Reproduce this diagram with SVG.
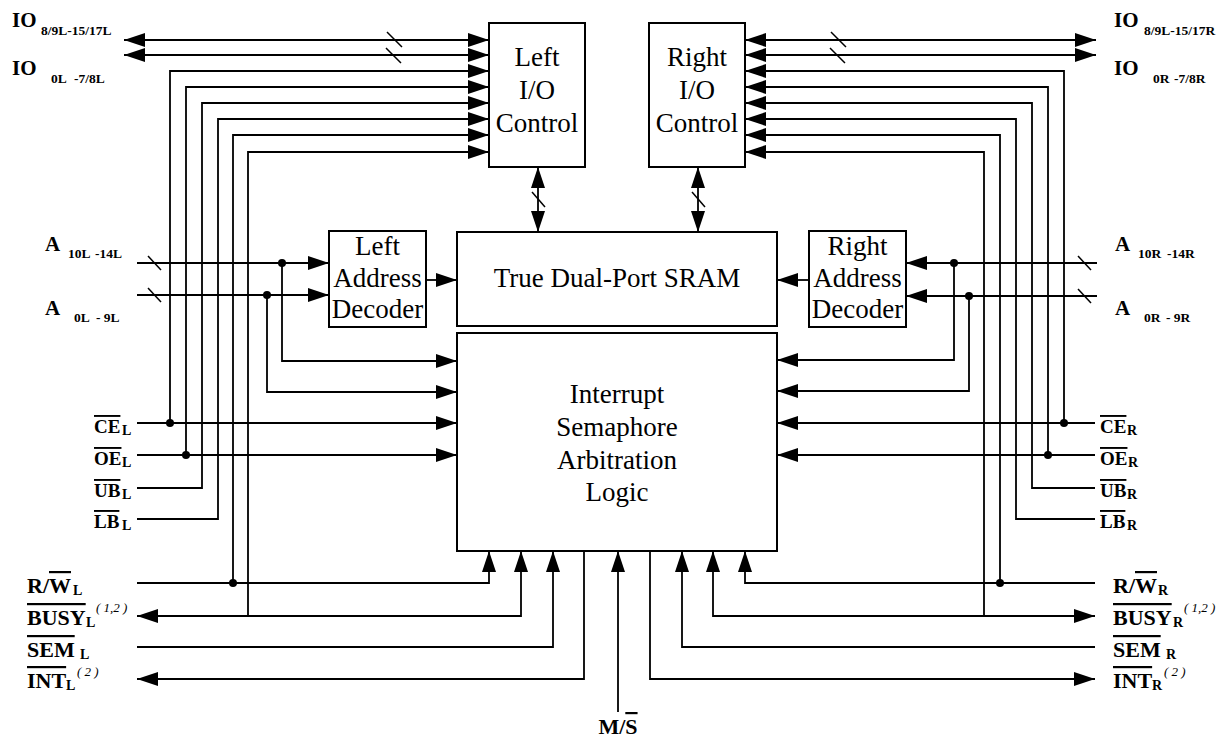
<svg xmlns="http://www.w3.org/2000/svg" width="1224" height="738" viewBox="0 0 1224 738">
<style>
.box{fill:#fff;stroke:#000;stroke-width:2}
.w{fill:none;stroke:#000;stroke-width:1.8}
.a{marker-end:url(#ah)}
.aa{marker-start:url(#ahs);marker-end:url(#ah)}
.sl{stroke:#000;stroke-width:1.5}
.dot{fill:#000}
.bt{font-family:"Liberation Serif","Times New Roman",serif;font-size:27px;text-anchor:middle;fill:#000}
.lb{font-family:"Liberation Serif","Times New Roman",serif;font-weight:bold;fill:#000}
.big{font-size:21px}
.sig{font-size:22px}
.ctl{font-size:19px}
.sub{font-size:13.5px}
.sub2{font-size:14px}
.sup{font-size:13px;font-style:italic;font-weight:normal}
.ov{text-decoration:overline}
</style>
<defs>
<marker id="ah" viewBox="0 0 21 14" refX="21" refY="7" markerWidth="21" markerHeight="14" markerUnits="userSpaceOnUse" orient="auto"><path d="M0,0 L21,7 L0,14 z" fill="#000"/></marker>
<marker id="ahs" viewBox="0 0 21 14" refX="21" refY="7" markerWidth="21" markerHeight="14" markerUnits="userSpaceOnUse" orient="auto-start-reverse"><path d="M0,0 L21,7 L0,14 z" fill="#000"/></marker>
</defs>

<g id="connectors">
<path class="w aa" d="M124,40 H489"/>
<path class="w aa" d="M124,55 H489"/>
<path class="w a" d="M170,423 V71 H489"/>
<path class="w a" d="M186,455 V87 H489"/>
<path class="w a" d="M137,488 H202 V103 H489"/>
<path class="w a" d="M137,519 H218 V119 H489"/>
<path class="w a" d="M233,583 V135 H489"/>
<path class="w a" d="M248,616 V152 H489"/>
<line class="sl" x1="387" y1="32" x2="402" y2="47"/>
<line class="sl" x1="386" y1="48" x2="401" y2="63"/>
<path class="w aa" d="M745,40 H1096"/>
<path class="w aa" d="M745,55 H1096"/>
<path class="w a" d="M1064,423 V71 H745"/>
<path class="w a" d="M1048,455 V87 H745"/>
<path class="w a" d="M1095,488 H1032 V103 H745"/>
<path class="w a" d="M1095,519 H1016 V119 H745"/>
<path class="w a" d="M1000,583 V135 H745"/>
<path class="w a" d="M984,616 V152 H745"/>
<line class="sl" x1="831" y1="32" x2="846" y2="47"/>
<line class="sl" x1="830" y1="48" x2="845" y2="63"/>
<path class="w aa" d="M538,167 V232"/>
<line class="sl" x1="532" y1="192" x2="545" y2="207"/>
<path class="w aa" d="M698,167 V232"/>
<line class="sl" x1="692" y1="192" x2="705" y2="207"/>
<path class="w a" d="M137,263 H329"/>
<path class="w a" d="M137,295 H329"/>
<line class="sl" x1="148" y1="256" x2="161" y2="270"/>
<line class="sl" x1="148" y1="288" x2="161" y2="302"/>
<path class="w a" d="M282,263 V361 H457"/>
<path class="w a" d="M267,295 V392 H457"/>
<path class="w a" d="M426,280 H457"/>
<path class="w a" d="M1097,263 H906"/>
<path class="w a" d="M1097,296 H906"/>
<line class="sl" x1="1078" y1="256" x2="1091" y2="270"/>
<line class="sl" x1="1078" y1="289" x2="1091" y2="303"/>
<path class="w a" d="M954,263 V360 H777"/>
<path class="w a" d="M969,296 V391 H777"/>
<path class="w a" d="M809,280 H777"/>
<path class="w a" d="M137,423 H457"/>
<path class="w a" d="M137,455 H457"/>
<path class="w a" d="M137,583 H489 V551"/>
<path class="w aa" d="M137,616 H521 V551"/>
<path class="w a" d="M137,647 H553 V551"/>
<path class="w a" d="M584,551 V679 H137"/>
<path class="w a" d="M1095,423 H777"/>
<path class="w a" d="M1095,455 H777"/>
<path class="w a" d="M1095,583 H745 V551"/>
<path class="w aa" d="M1095,616 H713 V551"/>
<path class="w a" d="M1095,647 H682 V551"/>
<path class="w a" d="M650,551 V679 H1095"/>
<path class="w a" d="M618,712 V551"/>
<circle class="dot" cx="282" cy="263" r="4"/>
<circle class="dot" cx="267" cy="295" r="4"/>
<circle class="dot" cx="170" cy="423" r="4"/>
<circle class="dot" cx="186" cy="455" r="4"/>
<circle class="dot" cx="233" cy="583" r="4"/>
<circle class="dot" cx="954" cy="263" r="4"/>
<circle class="dot" cx="969" cy="296" r="4"/>
<circle class="dot" cx="1064" cy="423" r="4"/>
<circle class="dot" cx="1048" cy="455" r="4"/>
<circle class="dot" cx="1000" cy="583" r="4"/>
</g>

<g id="left-io-control">
<rect class="box" x="489" y="23" width="96" height="144"/>
<text class="bt" x="537" y="66">Left</text>
<text class="bt" x="537" y="99">I/O</text>
<text class="bt" x="537" y="132">Control</text>
</g>
<g id="right-io-control">
<rect class="box" x="649" y="23" width="96" height="144"/>
<text class="bt" x="697" y="66">Right</text>
<text class="bt" x="697" y="99">I/O</text>
<text class="bt" x="697" y="132">Control</text>
</g>
<g id="sram">
<rect class="box" x="457" y="232" width="320" height="94"/>
<text class="bt" x="617" y="287">True Dual-Port SRAM</text>
</g>
<g id="left-address-decoder">
<rect class="box" x="329" y="231" width="97" height="96"/>
<text class="bt" x="377.5" y="255">Left</text>
<text class="bt" x="377.5" y="287">Address</text>
<text class="bt" x="377.5" y="318">Decoder</text>
</g>
<g id="right-address-decoder">
<rect class="box" x="809" y="231" width="97" height="96"/>
<text class="bt" x="857.5" y="255">Right</text>
<text class="bt" x="857.5" y="287">Address</text>
<text class="bt" x="857.5" y="318">Decoder</text>
</g>
<g id="logic">
<rect class="box" x="457" y="333" width="320" height="218"/>
<text class="bt" x="617" y="403">Interrupt</text>
<text class="bt" x="617" y="436">Semaphore</text>
<text class="bt" x="617" y="469">Arbitration</text>
<text class="bt" x="617" y="501">Logic</text>
</g>

<g id="labels-left">
<text class="lb big" x="12" y="27">IO<tspan class="sub" x="41" y="35">8/9L-15/17L</tspan></text>
<text class="lb big" x="12" y="75">IO<tspan class="sub" x="51" y="83">0L</tspan><tspan class="sub" x="74" y="83">-7/8L</tspan></text>
<text class="lb big" x="45" y="251">A<tspan class="sub" x="68" y="258">10L</tspan><tspan class="sub" x="95" y="258">-14L</tspan></text>
<text class="lb big" x="45" y="315">A<tspan class="sub" x="74" y="322">0L</tspan><tspan class="sub" x="96" y="322">- 9L</tspan></text>
<text class="lb ctl" x="94" y="433"><tspan class="ov">CE</tspan><tspan class="sub2" x="122" y="435">L</tspan></text>
<text class="lb ctl" x="94" y="465"><tspan class="ov">OE</tspan><tspan class="sub2" x="122" y="467">L</tspan></text>
<text class="lb ctl" x="94" y="497"><tspan class="ov">UB</tspan><tspan class="sub2" x="122" y="499">L</tspan></text>
<text class="lb ctl" x="94" y="528"><tspan class="ov">LB</tspan><tspan class="sub2" x="122" y="530">L</tspan></text>
<text class="lb sig" x="27" y="593">R/<tspan class="ov">W</tspan><tspan class="sub2" x="73" y="595">L</tspan></text>
<text class="lb sig" x="27" y="625"><tspan class="ov">BUSY</tspan><tspan class="sub2" x="86" y="627">L</tspan><tspan class="sup" x="96" y="612">( 1,2 )</tspan></text>
<text class="lb sig" x="27" y="657"><tspan class="ov">SEM</tspan><tspan class="sub2" x="80" y="659">L</tspan></text>
<text class="lb sig" x="27" y="688"><tspan class="ov">INT</tspan><tspan class="sub2" x="66" y="690">L</tspan><tspan class="sup" x="77" y="676">( 2 )</tspan></text>
</g>
<g id="labels-right">
<text class="lb big" x="1114" y="27">IO<tspan class="sub" x="1144" y="35">8/9L-15/17R</tspan></text>
<text class="lb big" x="1114" y="75">IO<tspan class="sub" x="1153" y="83">0R</tspan><tspan class="sub" x="1174" y="83">-7/8R</tspan></text>
<text class="lb big" x="1115" y="251">A<tspan class="sub" x="1138" y="258">10R</tspan><tspan class="sub" x="1167" y="258">-14R</tspan></text>
<text class="lb big" x="1115" y="315">A<tspan class="sub" x="1144" y="322">0R</tspan><tspan class="sub" x="1166" y="322">- 9R</tspan></text>
<text class="lb ctl" x="1100" y="433"><tspan class="ov">CE</tspan><tspan class="sub2" x="1127" y="435">R</tspan></text>
<text class="lb ctl" x="1100" y="465"><tspan class="ov">OE</tspan><tspan class="sub2" x="1128" y="467">R</tspan></text>
<text class="lb ctl" x="1100" y="497"><tspan class="ov">UB</tspan><tspan class="sub2" x="1127" y="499">R</tspan></text>
<text class="lb ctl" x="1100" y="528"><tspan class="ov">LB</tspan><tspan class="sub2" x="1127" y="530">R</tspan></text>
<text class="lb sig" x="1113" y="593">R/<tspan class="ov">W</tspan><tspan class="sub2" x="1158" y="595">R</tspan></text>
<text class="lb sig" x="1113" y="625"><tspan class="ov">BUSY</tspan><tspan class="sub2" x="1173" y="627">R</tspan><tspan class="sup" x="1184" y="612">( 1,2 )</tspan></text>
<text class="lb sig" x="1113" y="657"><tspan class="ov">SEM</tspan><tspan class="sub2" x="1166" y="659">R</tspan></text>
<text class="lb sig" x="1113" y="688"><tspan class="ov">INT</tspan><tspan class="sub2" x="1152" y="690">R</tspan><tspan class="sup" x="1164" y="676">( 2 )</tspan></text>
<text class="lb sig" x="618" y="734" text-anchor="middle">M/<tspan class="ov">S</tspan></text>
</g>
</svg>
